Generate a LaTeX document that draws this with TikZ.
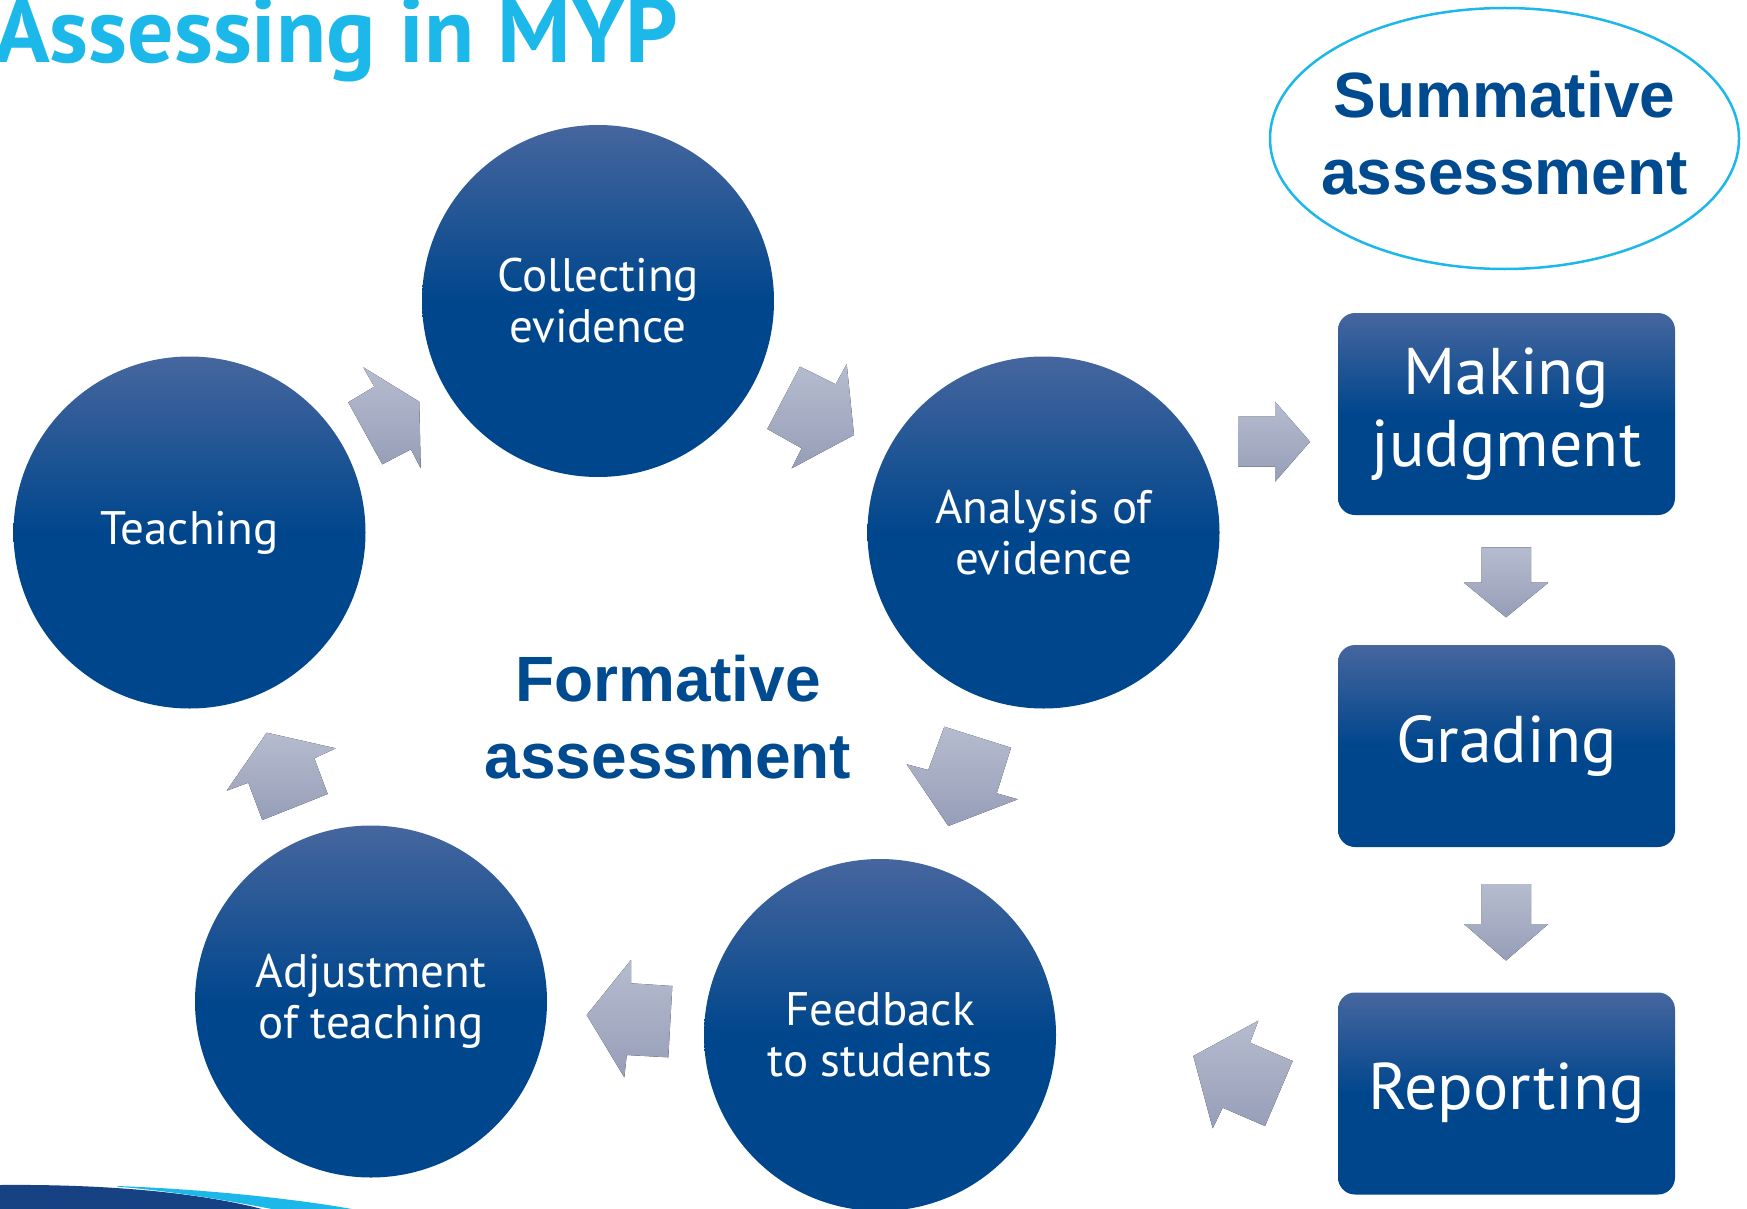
\documentclass[tikz,border=0pt]{standalone}
\usepackage{fontspec}
\setmainfont{PT Sans}
\newfontfamily\headfont{Liberation Sans}
\usetikzlibrary{shapes.geometric}

\definecolor{ibblue}{RGB}{0,70,140}
\definecolor{ibtop}{RGB}{70,102,158}
\definecolor{ibcyan}{RGB}{29,184,234}
\definecolor{headblue}{RGB}{0,74,143}
\definecolor{arrtop}{RGB}{182,188,207}
\definecolor{arrbot}{RGB}{150,158,184}
\definecolor{swoosh}{RGB}{22,66,132}

% dark blue lower half, lighter towards the top
\pgfdeclareverticalshading{discshade}{100bp}{color(0bp)=(ibblue); color(25bp)=(ibblue); color(50bp)=(ibblue); color(75bp)=(ibtop); color(100bp)=(ibtop)}

\tikzset{
  disc/.style={circle, minimum size=352pt, inner sep=0pt, shading=discshade,
    text=white, align=center, font=\fontsize{47}{51}\selectfont},
  stagebox/.style={rectangle, rounded corners=17pt, minimum width=337pt,
    minimum height=202pt, inner sep=0pt, shading=discshade, text=white,
    align=center, font=\fontsize{66}{72}\selectfont},
  blockarrow/.style={top color=arrtop, bottom color=arrbot, draw=none},
  headtext/.style={text=headblue, align=center,
    font=\headfont\bfseries\fontsize{64}{77}\selectfont},
}

\begin{document}
\begin{tikzpicture}[x=1pt,y=-1pt]
\useasboundingbox (0,0) rectangle (1747,1209);
\clip (0,0) rectangle (1747,1209);
\fill[white] (0,0) rectangle (1747,1209);

% title
\node[anchor=base west, inner sep=0pt, text=ibcyan,
  font=\bfseries\fontsize{92}{94}\selectfont] (title) at (-6,63) {Assessing in MYP};

% formative cycle
\node[disc] (teach)    at (189.5,532.5) {Teaching};
\node[disc] (collect)  at (598,301)     {Collecting\\evidence};
\node[disc] (analysis) at (1043.5,532.5){Analysis of\\evidence};
\node[disc] (feedback) at (880,1035)    {Feedback\\to students};
\node[disc] (adjust)   at (371,1001.5)  {Adjustment\\of teaching};

\node[headtext] (formative) at (668,717.5) {Formative\\assessment};

% cycle arrows
\fill[blockarrow] (363.3,367.3) -- (419.3,401.7) -- (420.7,468.3) -- (411,449.3)
  -- (382.3,464.3) -- (348.3,402.3) -- (374.3,386.7) -- cycle;
\fill[blockarrow] (800,366.7) -- (835.7,384.3) -- (846.7,364) -- (854,435)
  -- (791.7,468.3) -- (801.7,448.3) -- (767.3,429) -- cycle;
\fill[blockarrow] (944.3,726.7) -- (1011,747.7) -- (996.7,793.3) -- (1017.7,799.3)
  -- (948.3,826) -- (906.7,764.3) -- (928.3,770) -- cycle;
\fill[blockarrow] (631,960) -- (631,983.3) -- (672.3,986) -- (668.3,1057.3)
  -- (626.7,1055) -- (624.3,1077.3) -- (586.7,1015) -- cycle;
\fill[blockarrow] (266.7,732.7) -- (335.7,748.3) -- (314.3,758.3) -- (327.7,794)
  -- (262.3,820) -- (248.3,782.7) -- (226.7,790.7) -- cycle;

% summative column
\node[ellipse, draw=ibcyan, line width=2.5pt, fill=white, minimum width=469pt,
  minimum height=261pt, inner sep=0pt] (summ) at (1504.5,138.5) {};
\node[headtext, yshift=5.5pt] (summtext) at (summ.center) {Summative\\assessment};

\node[stagebox] (judge)  at (1506.5,414)    {Making\\judgment};
\node[stagebox] (grade)  at (1506.5,746)    {Grading};
\node[stagebox] (report) at (1506.5,1093.5) {Reporting};

\fill[blockarrow] (1238.3,416.7) -- (1275,416.7) -- (1275,401.7) -- (1310,441.7)
  -- (1275,481.7) -- (1275,466.7) -- (1238.3,466.7) -- cycle;
\fill[blockarrow] (1481.7,547.3) -- (1531,547.3) -- (1531,582.7) -- (1548.3,582.7)
  -- (1506,617.3) -- (1464,582.7) -- (1481.7,582.7) -- cycle;
\fill[blockarrow] (1481.7,884) -- (1531,884) -- (1531,924) -- (1548.3,924)
  -- (1506,960.5) -- (1464,924) -- (1481.7,924) -- cycle;
\fill[blockarrow] (1258.3,1020.7) -- (1250,1042.7) -- (1292.7,1061) -- (1265,1126)
  -- (1222.7,1107.7) -- (1212.7,1128.3) -- (1193.3,1056) -- cycle;

% corner swoosh
\fill[swoosh] (0,1185) .. controls (110,1184) and (200,1193) .. (262,1209)
  -- (0,1209) -- cycle;
\fill[ibcyan] (117,1186) .. controls (200,1189) and (290,1198) .. (352,1209)
  -- (272,1209) .. controls (220,1199) and (170,1191) .. (117,1186.6) -- cycle;
\end{tikzpicture}
\end{document}
